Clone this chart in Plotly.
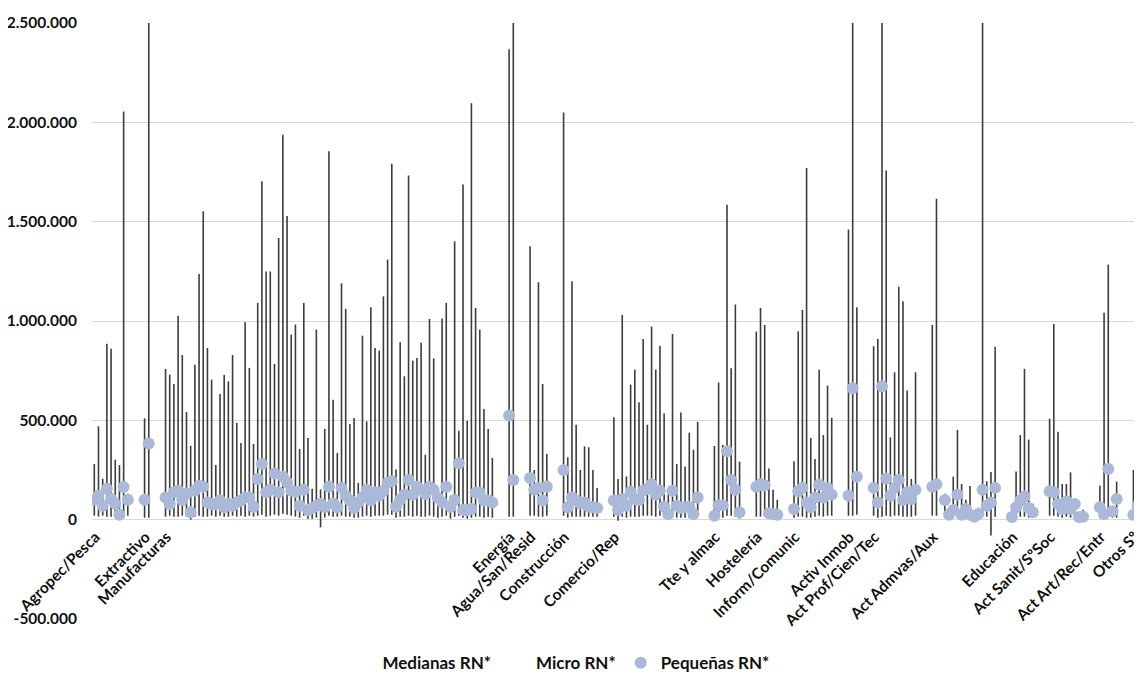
import plotly.graph_objects as go

# ---------------- data ----------------
sector_names = ["Agropec/Pesca", "Extractivo", "Manufacturas", "Energía", "Agua/San/Resid",
                "Construcción", "Comercio/Rep", "Tte y almac", "Hostelería", "Inform/Comunic",
                "Activ Inmob", "Act Prof/Cien/Tec", "Act Admvas/Aux", "Educación",
                "Act Sanit/SºSoc", "Act Art/Rec/Entr", "Otros Sº"]
sector_start = [0, 12, 17, 99, 104, 112, 124, 148, 158, 167, 180, 186, 200, 219, 228, 240, 248]

cat_idx = [
    0, 1, 2, 3, 4, 5, 6, 7, 8,
    12, 13,
    17, 18, 19, 20, 21, 22, 23, 24, 25, 26, 27, 28, 29, 30, 31, 32, 33, 34, 35, 36,
    37, 38, 39, 40, 41, 42, 43, 44, 45, 46, 47, 48, 49, 50, 51, 52, 53, 54, 55, 56,
    57, 58, 59, 60, 61, 62, 63, 64, 65, 66, 67, 68, 69, 70, 71, 72, 73, 74, 75, 76,
    77, 78, 79, 80, 81, 82, 83, 84, 85, 86, 87, 88, 89, 90, 91, 92, 93, 94, 95,
    99, 100,
    104, 105, 106, 107, 108,
    112, 113, 114, 115, 116, 117, 118, 119, 120,
    124, 125, 126, 127, 128, 129, 130, 131, 132, 133, 134, 135, 136, 137, 138, 139,
    140, 141, 142, 143, 144,
    148, 149, 150, 151, 152, 153, 154,
    158, 159, 160, 161, 162, 163,
    167, 168, 169, 170, 171, 172, 173, 174, 175, 176,
    180, 181, 182,
    186, 187, 188, 189, 190, 191, 192, 193, 194, 195, 196,
    200, 201, 203, 204, 205, 206, 207, 208, 209, 210, 211, 212, 213, 214, 215,
    219, 220, 221, 222, 223, 224,
    228, 229, 230, 231, 232, 233, 234, 235, 236,
    240, 241, 242, 243, 244,
    248, 249, 250,
]

medianas = [
    280000, 470000, 206000, 885000, 860000, 302000, 275000, 2054000, 130000,
    510000, 2900000,
    759000, 730000, 683000, 1027000, 829000, 542000, 372000, 780000, 1237000, 1552000,
    864000, 705000, 275000, 633000, 728000, 696000, 829000, 487000, 386000, 994000,
    764000, 381000, 1091000, 1703000, 1249000, 1249000, 784000, 1418000, 1937000, 1529000,
    931000, 982000, 356000, 1091000, 411000, 155000, 957000, 152000, 457000, 1854000,
    604000, 336000, 1190000, 1061000, 482000, 512000, 185000, 926000, 495000, 1069000,
    864000, 851000, 1124000, 1309000, 1791000, 252000, 893000, 722000, 1732000, 800000,
    814000, 890000, 327000, 1010000, 812000, 160000, 1013000, 1091000, 120000, 1401000,
    448000, 1687000, 498000, 2096000, 1066000, 957000, 557000, 457000, 311000,
    2368000, 2900000,
    1376000, 250000, 1195000, 683000, 331000,
    2049000, 314000, 1200000, 478000, 250000, 369000, 364000, 250000, 160000,
    515000, 205000, 1031000, 218000, 680000, 754000, 591000, 910000, 478000, 972000,
    755000, 876000, 535000, 150000, 935000, 280000, 540000, 267000, 438000, 352000, 492000,
    371000, 690000, 376000, 1585000, 762000, 1083000, 292000,
    947000, 1066000, 980000, 258000, 150000, 100000,
    294000, 948000, 1056000, 1770000, 411000, 305000, 754000, 426000, 675000, 513000,
    1461000, 2900000, 1069000,
    873000, 910000, 2900000, 1757000, 414000, 742000, 1173000, 1099000, 650000, 205000, 742000,
    980000, 1615000, 130000, 60000, 216000, 452000, 180000, 100000, 170000, 40000, 60000,
    2900000, 193000, 240000, 871000,
    60000, 242000, 426000, 759000, 403000, 80000,
    508000, 985000, 443000, 180000, 180000, 238000, 100000, 30000, 50000,
    171000, 1042000, 1284000, 60000, 191000,
    250000, 252000, 393000,
]

micro = [
    20000, 15000, 20000, 15000, 15000, 20000, 10000, 15000, 20000,
    10000, 10000,
    15000, 20000, 15000, 15000, 20000, 15000, 0, 15000, 20000, 15000,
    15000, 20000, 15000, 20000, 15000, 15000, 20000, 15000, 20000, 15000,
    20000, 15000, 20000, 25000, 15000, 20000, 25000, 20000, 30000, 25000,
    20000, 15000, 10000, 20000, 5000, 5000, 10000, -39000, 10000, 20000,
    15000, 15000, 20000, 15000, 15000, 10000, 10000, 15000, 20000, 15000,
    20000, 20000, 20000, 25000, 25000, 10000, 15000, 15000, 20000, 15000,
    20000, 15000, 15000, 20000, 15000, 10000, 15000, 20000, 5000, 15000,
    20000, 10000, 5000, 10000, 15000, 15000, 10000, 15000, 10000,
    15000, 15000,
    20000, 20000, 15000, 15000, 20000,
    20000, 10000, 15000, 15000, 15000, 15000, 15000, 15000, 15000,
    15000, -5000, 15000, 10000, 15000, 15000, 15000, 20000, 20000, 20000,
    15000, 20000, 10000, 5000, 15000, 10000, 10000, 10000, 10000, 5000, 15000,
    5000, 10000, 10000, 20000, 20000, 15000, 5000,
    15000, 15000, 20000, 5000, 5000, 5000,
    10000, 15000, 15000, 10000, 10000, 15000, 20000, 15000, 20000, 20000,
    20000, 20000, 25000,
    20000, 10000, 15000, 20000, 15000, 20000, 20000, 15000, 15000, 15000, 20000,
    20000, 20000, 40000, 10000, 10000, 15000, 5000, 10000, 5000, 5000, 10000,
    20000, 15000, -80000, 15000,
    5000, 10000, 15000, 15000, 10000, 10000,
    20000, 20000, 15000, 10000, 15000, 10000, 10000, 5000, 5000,
    10000, 10000, 15000, 10000, 10000,
    5000, 10000, 15000,
]

pequenas = [
    100000, 120000, 70000, 155000, 105000, 80000, 25000, 165000, 100000,
    100000, 383000,
    112000, 79000, 138000, 146000, 99000, 132000, 37000, 146000, 171000, 166000,
    87000, 79000, 79000, 96000, 62000, 79000, 70000, 87000, 96000, 112000,
    112000, 65000, 205000, 280000, 138000, 150000, 233000, 138000, 216000, 188000,
    146000, 140000, 70000, 150000, 49000, 59000, 70000, 79000, 62000, 166000,
    82000, 62000, 160000, 121000, 96000, 59000, 87000, 112000, 150000, 96000,
    138000, 121000, 146000, 186000, 193000, 65000, 100000, 126000, 200000, 126000,
    166000, 150000, 129000, 165000, 150000, 110000, 87000, 166000, 65000, 99000,
    284000, 49000, 49000, 54000, 136000, 136000, 96000, 96000, 87000,
    524000, 200000,
    210000, 150000, 160000, 96000, 166000,
    250000, 62000, 112000, 96000, 82000, 87000, 65000, 62000, 59000,
    96000, 49000, 104000, 70000, 140000, 104000, 99000, 146000, 155000, 178000,
    126000, 146000, 65000, 28000, 146000, 70000, 59000, 62000, 65000, 28000, 112000,
    20000, 73000, 73000, 344000, 200000, 150000, 37000,
    166000, 178000, 172000, 32000, 28000, 25000,
    54000, 143000, 160000, 87000, 62000, 112000, 176000, 112000, 160000, 126000,
    121000, 661000, 216000,
    160000, 87000, 671000, 207000, 121000, 160000, 200000, 99000, 138000, 104000, 150000,
    166000, 178000, 99000, 25000, 49000, 126000, 25000, 54000, 25000, 15000, 28000,
    150000, 70000, 87000, 160000,
    13000, 62000, 96000, 116000, 59000, 37000,
    143000, 138000, 79000, 54000, 92000, 54000, 79000, 13000, 15000,
    62000, 28000, 255000, 42000, 104000,
    25000, 70000, 60000,
]

y_tick_vals = [-500000, 0, 500000, 1000000, 1500000, 2000000, 2500000]
y_tick_text = ["-500.000", "0", "500.000", "1.000.000", "1.500.000", "2.000.000", "2.500.000"]

# ---------------- build high-low lines from the data ----------------
hl_x, hl_y = [], []
for i, hi, lo, pe in zip(cat_idx, medianas, micro, pequenas):
    hl_x += [i, i, None]
    hl_y += [min(hi, lo, pe), max(hi, lo, pe), None]

FONT = "Lato"
TXT = "#111111"

fig = go.Figure()
fig.add_trace(go.Scatter(x=hl_x, y=hl_y, mode="lines",
                         line=dict(color="#3c3c3c", width=1.6),
                         showlegend=False, hoverinfo="skip"))
fig.add_trace(go.Scatter(x=cat_idx, y=medianas, mode="lines", name="Medianas RN*",
                         line=dict(width=0, color="rgba(0,0,0,0)")))
fig.add_trace(go.Scatter(x=cat_idx, y=micro, mode="lines", name="Micro RN*",
                         line=dict(width=0, color="rgba(0,0,0,0)")))
fig.add_trace(go.Scatter(x=cat_idx, y=pequenas, mode="markers", name="Pequeñas RN*",
                         marker=dict(size=12, color="#abb9d8", line=dict(width=0))))

# the page body has an 8px default margin, so the figure is 8px smaller and shifted
fig.update_layout(
    width=1134, height=669,
    margin=dict(l=84, r=0, t=15, b=58, autoexpand=False),
    paper_bgcolor="white", plot_bgcolor="white",
    font=dict(family=FONT, size=16, color=TXT, weight="bold"),
    showlegend=True,
    legend=dict(orientation="h", x=0.2385, xanchor="left", y=-0.074, yanchor="middle",
                font=dict(family=FONT, size=17, color=TXT, weight="bold"),
                bgcolor="rgba(0,0,0,0)"),
    xaxis=dict(range=[-0.55, 250.05], showgrid=False, zeroline=False, showline=False,
               tickmode="array", tickvals=sector_start, ticktext=sector_names,
               tickangle=-45, ticks="", anchor="free", position=(619 - 519) / 596,
               ticklabelstandoff=5, ticklabelshift=1, ticklabeloverflow="allow",
               automargin=False,
               tickfont=dict(family=FONT, size=15.5, color=TXT, weight="bold")),
    yaxis=dict(range=[-500000, 2500000], tickmode="array",
               tickvals=y_tick_vals, ticktext=y_tick_text,
               showgrid=True, gridcolor="#d9d9d9", gridwidth=1,
               zeroline=False, showline=False, ticks="", ticklabelstandoff=14,
               automargin=False,
               tickfont=dict(family=FONT, size=15.5, color=TXT, weight="bold")),
)

fig.write_html("out.html")
